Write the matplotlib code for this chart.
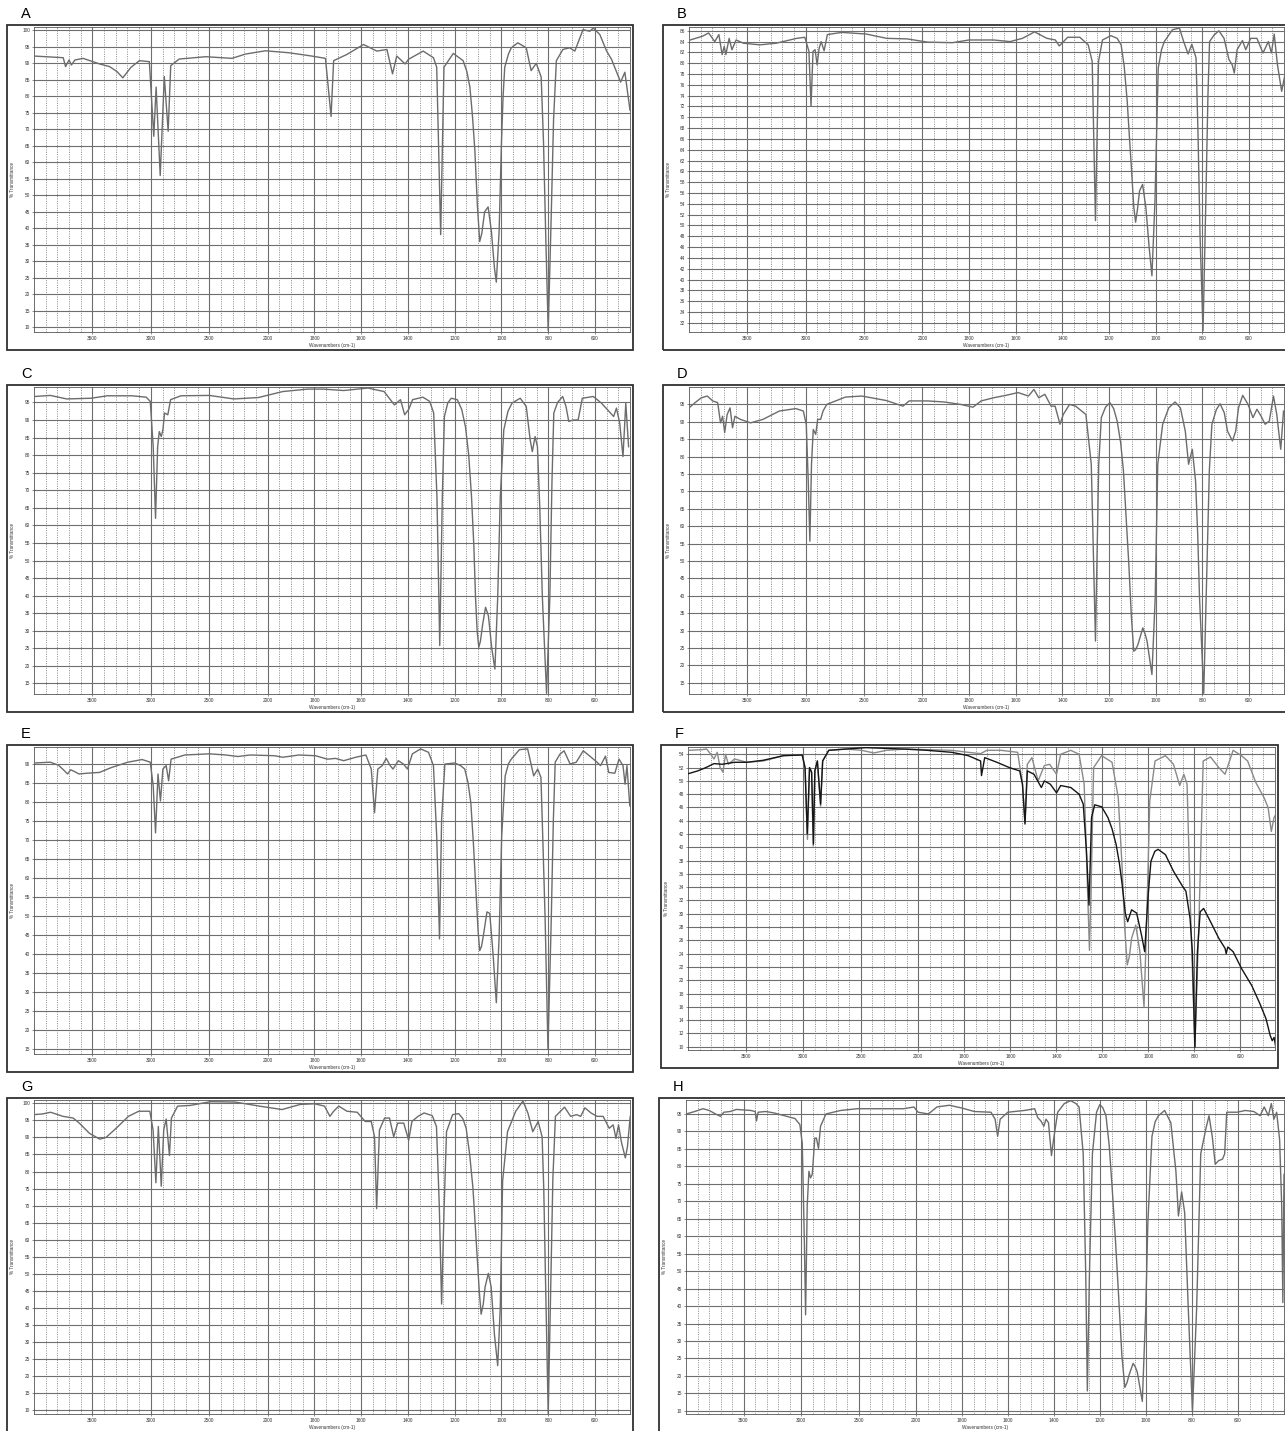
import numpy as np
import matplotlib.pyplot as plt
from matplotlib.patches import Rectangle

plt.rcParams['font.family'] = ['Liberation Sans', 'DejaVu Sans']

# spectra: (wavenumber cm-1, %T)
spec_a = [(4000, 92.2), (3750, 91.7), (3730, 89.0), (3700, 91.0), (3680, 89.5), (3650, 91.0),
          (3580, 91.5), (3438, 89.8), (3353, 89.0), (3290, 87.5), (3240, 85.6), (3170, 88.8),
          (3098, 90.8), (3013, 90.5),
          (2975, 67.9), (2955, 82.8), (2920, 56.0), (2885, 86.0), (2852, 69.4), (2830, 89.3),
          (2757, 91.3), (2530, 92.0), (2306, 91.5), (2190, 92.8), (2020, 93.8), (1910, 93.2),
          (1860, 92.7), (1812, 92.2), (1753, 91.5), (1729, 73.9), (1718, 90.8), (1661, 92.7),
          (1590, 95.7), (1533, 93.7), (1490, 94.2), (1466, 86.8), (1448, 92.2), (1412, 89.8),
          (1398, 91.2), (1335, 93.7), (1291, 91.7), (1277, 88.8), (1260, 38.1), (1246, 88.8),
          (1206, 93.0), (1164, 90.8), (1148, 87.5), (1135, 82.8), (1124, 74.0), (1114, 63.9),
          (1103, 47.0), (1093, 36.0), (1084, 38.5), (1072, 45.0),
          (1057, 46.5), (1043, 39.1), (1030, 28.0), (1022, 23.7), (1010, 39.1), (1000, 65.9),
          (993, 80.0), (986, 88.8), (970, 92.8),
          (958, 94.7), (930, 96.2), (894, 94.7), (873, 87.8), (851, 90.0), (830, 85.8),
          (820, 66.0), (811, 39.1), (800, 9.0), (787, 44.0), (777, 73.0), (765, 90.8),
          (737, 94.2), (708, 94.7),
          (686, 93.7), (651, 100.2), (622, 99.7), (607, 100.7), (579, 98.7), (550, 93.7),
          (529, 91.2), (507, 87.3), (490, 84.3), (472, 87.3), (450, 75.8)]

spec_b = [(3989, 84.3), (3884, 85.0), (3832, 85.6), (3779, 84.0), (3744, 85.3), (3716, 81.6),
          (3698, 83.1), (3684, 81.6), (3656, 84.6), (3632, 82.5), (3596, 84.3), (3533, 83.7),
          (3393, 83.4), (3253, 83.7), (3077, 84.6), (3007, 84.8), (2972, 82.2), (2954, 72.1),
          (2937, 82.2), (2919, 82.5), (2902, 79.7), (2884, 82.8), (2867, 84.0), (2842, 82.3),
          (2814, 85.3), (2691, 85.7), (2481, 85.4), (2305, 84.6), (2130, 84.5), (1977, 83.9),
          (1871, 83.8), (1800, 84.3), (1695, 84.3), (1624, 84.0), (1571, 84.6), (1519, 85.8),
          (1466, 84.6), (1430, 84.3), (1413, 83.2), (1377, 84.8), (1325, 84.8), (1289, 83.4),
          (1272, 80.3), (1258, 50.9), (1245, 80.3), (1228, 84.3), (1192, 85.1), (1165, 84.6),
          (1148, 83.4), (1135, 79.5),
          (1122, 73.0), (1112, 66.0), (1104, 60.7), (1094, 53.5), (1086, 50.6), (1078, 53.0),
          (1069, 56.4), (1056, 57.6), (1042, 53.3), (1028, 46.0),
          (1016, 40.7), (1003, 54.5), (989, 79.1), (975, 82.5), (963, 84.0), (928, 86.2), (898, 86.5),
          (880, 84.0), (861, 81.7), (845, 83.5), (827, 81.0), (818, 66.0), (810, 48.4), (797, 30.5),
          (785, 54.5), (776, 74.0), (769, 84.0), (750, 85.2), (729, 86.0), (707, 84.6), (686, 80.7), (672, 79.7),
          (663, 78.2), (651, 82.5), (628, 84.2), (614, 82.5), (593, 84.6), (566, 84.6),
          (540, 81.9), (517, 84.0), (504, 81.9), (492, 85.4), (478, 79.7), (460, 74.8),
          (446, 77.9)]

spec_c = [(3993, 96.7), (3860, 97.0), (3720, 96.0), (3511, 96.2), (3372, 96.9), (3162, 96.9),
          (3040, 96.5), (3005, 95.3), (2980, 82.4), (2960, 62.0), (2942, 82.4), (2928, 86.7),
          (2911, 85.3), (2897, 87.2), (2883, 92.0), (2855, 91.5), (2831, 95.8), (2743, 96.9),
          (2499, 97.0), (2290, 96.0), (2080, 96.4), (1936, 98.1), (1830, 98.8), (1762, 98.8),
          (1675, 98.4), (1571, 99.1), (1502, 98.1), (1458, 94.3), (1432, 95.8), (1414, 91.5),
          (1397, 93.0), (1380, 95.8), (1336, 96.5), (1307, 95.3), (1290, 92.0), (1276, 68.1),
          (1264, 25.8), (1253, 68.1), (1244, 91.0), (1230, 94.8), (1215, 96.2), (1189, 95.8),
          (1170, 93.0), (1154, 88.1), (1140, 80.0),
          (1128, 68.1), (1118, 54.0), (1111, 39.6), (1104, 30.0), (1097, 25.3), (1090, 27.0),
          (1080, 32.0), (1068, 36.7), (1056, 34.3), (1049, 30.0),
          (1042, 25.3), (1028, 19.1), (1016, 39.6), (1005, 68.1), (990, 87.2), (972, 92.5),
          (955, 94.8), (920, 96.2), (894, 93.9), (877, 84.3), (868, 81.0), (856, 85.3), (846, 82.4),
          (836, 65.0), (825, 39.6), (807, 12.2), (793, 39.6), (784, 72.0), (776, 92.0),
          (760, 95.0), (738, 96.7), (724, 93.9),
          (712, 89.6), (694, 90.0), (672, 90.0), (654, 96.2), (607, 96.7), (572, 94.8),
          (546, 92.9), (520, 91.0), (508, 93.4), (494, 89.1), (480, 79.6), (468, 94.8),
          (456, 82.4)]

spec_d = [(4000, 94.0), (3948, 95.5), (3895, 96.9), (3843, 97.4), (3797, 96.0), (3754, 95.5),
          (3730, 89.7), (3712, 91.6), (3694, 86.9), (3673, 92.1), (3648, 94.0), (3627, 88.3),
          (3606, 91.6), (3560, 90.7), (3472, 89.7), (3366, 90.7), (3225, 93.1), (3084, 93.8),
          (3020, 93.1), (2995, 89.3), (2978, 73.0), (2964, 55.7), (2950, 77.8), (2935, 87.8),
          (2914, 86.4), (2897, 90.7), (2872, 90.7), (2851, 93.1), (2819, 95.0), (2660, 97.1),
          (2519, 97.4), (2307, 96.1), (2166, 94.5), (2113, 96.0), (1977, 96.0), (1907, 95.7),
          (1836, 95.0), (1783, 94.2), (1748, 96.0), (1695, 96.9), (1642, 97.6), (1590, 98.4),
          (1545, 97.4), (1522, 99.3), (1501, 96.9), (1475, 97.9), (1448, 94.5), (1431, 94.5),
          (1410, 89.3), (1396, 92.1), (1369, 95.0), (1343, 94.5), (1299, 92.1), (1276, 77.8),
          (1258, 27.0), (1244, 77.8), (1233, 91.2), (1215, 94.2), (1196, 95.5), (1180, 93.8),
          (1165, 90.2), (1150, 84.0), (1138, 75.8),
          (1115, 49.0), (1104, 34.0), (1094, 24.1), (1086, 24.5), (1076, 26.0), (1055, 30.8),
          (1045, 29.0), (1037, 27.0), (1016, 17.4),
          (1002, 39.4), (991, 77.8), (970, 89.3), (944, 94.0), (917, 95.7), (894, 94.0),
          (873, 87.3), (859, 77.8), (843, 82.1), (829, 73.0), (820, 58.0), (812, 39.4), (794, 12.0),
          (780, 49.0), (770, 76.0), (759, 89.3), (740, 93.5), (724, 95.2), (706, 92.6), (692, 87.3), (671, 84.5),
          (657, 87.3), (645, 94.0), (627, 97.6), (604, 95.0), (583, 91.2), (566, 93.6),
          (548, 91.6), (531, 89.3), (513, 90.2), (495, 97.4), (481, 92.1), (464, 82.1),
          (452, 93.1)]

spec_e = [(3993, 90.2), (3860, 90.4), (3790, 89.6), (3738, 88.1), (3713, 87.3), (3686, 88.4),
          (3651, 87.9), (3616, 87.3), (3546, 87.5), (3441, 87.7), (3337, 89.0), (3197, 90.4),
          (3075, 91.1), (3005, 90.4), (2980, 84.2), (2960, 71.8), (2939, 87.3), (2918, 80.2),
          (2897, 88.6), (2869, 89.5), (2848, 85.5), (2827, 91.2), (2709, 92.3), (2499, 92.6),
          (2360, 92.3), (2255, 91.9), (2150, 92.3), (1970, 92.1), (1936, 91.7), (1866, 92.3),
          (1795, 92.1), (1745, 91.2), (1710, 91.4), (1675, 90.8), (1623, 91.7), (1580, 92.3),
          (1557, 88.6), (1543, 77.1), (1529, 88.6), (1510, 89.5), (1493, 91.4), (1476, 89.5),
          (1464, 88.6), (1441, 90.8), (1419, 89.9), (1402, 88.6), (1381, 92.6), (1346, 93.9),
          (1312, 93.0), (1291, 89.5), (1277, 70.9), (1265, 43.9), (1256, 75.3), (1242, 89.9),
          (1200, 90.2), (1175, 89.5), (1157, 88.6), (1143, 85.0), (1131, 79.7), (1120, 69.0),
          (1110, 57.6), (1100, 46.0), (1093, 40.8), (1085, 42.0), (1076, 45.3),
          (1062, 51.0), (1050, 50.6), (1036, 40.0), (1022, 27.1), (1010, 44.4), (999, 70.9),
          (984, 86.8), (970, 90.0), (958, 91.2), (923, 93.7), (888, 93.9), (862, 86.8), (845, 88.6),
          (831, 86.4), (822, 68.0), (813, 48.8), (801, 15.0), (787, 48.8), (778, 75.0), (770, 90.4),
          (750, 92.5), (732, 93.4),
          (706, 89.9), (680, 90.4), (650, 93.4), (624, 92.1), (593, 90.5), (576, 89.5),
          (555, 92.0), (541, 87.7), (515, 87.5), (497, 91.2), (480, 89.5), (471, 84.6),
          (463, 89.5), (451, 78.9)]

# F holds two scans: grey (f1) and black (f2)
spec_f1 = [(3995, 54.6), (3880, 54.7), (3838, 54.8), (3802, 54.0), (3774, 53.3), (3746, 54.3),
           (3721, 52.0), (3696, 51.3), (3674, 54.0), (3649, 52.5), (3596, 53.3), (3489, 52.8),
           (3347, 53.0), (3169, 53.8), (3008, 53.9), (2983, 52.0), (2962, 41.2), (2944, 52.0),
           (2926, 51.3), (2912, 40.2), (2898, 51.5), (2876, 53.0), (2848, 46.2), (2830, 53.0),
           (2777, 54.6), (2634, 54.8), (2492, 54.6), (2385, 54.2), (2278, 54.6), (2100, 54.8),
           (1961, 54.7), (1854, 54.6), (1783, 54.3), (1729, 54.1), (1702, 54.6), (1640, 54.6),
           (1568, 54.3), (1547, 49.5), (1536, 43.7), (1526, 52.5), (1506, 53.5), (1479, 50.0),
           (1452, 52.3), (1429, 52.5), (1399, 51.0), (1381, 54.0), (1337, 54.6), (1301, 54.0),
           (1279, 49.5), (1265, 34.4), (1256, 24.5), (1247, 36.9), (1238, 52.0), (1203, 53.8),
           (1158, 52.8), (1131, 47.5), (1114, 36.9), (1103, 28.0), (1092, 22.3), (1083, 23.5),
           (1073, 26.3), (1055, 28.3),
           (1037, 24.3), (1019, 16.0), (1007, 29.3), (994, 47.0), (971, 53.0), (926, 53.8),
           (891, 52.5), (864, 49.3), (846, 51.0), (832, 49.5), (816, 29.3), (798, 9.9),
           (780, 29.3), (762, 53.0), (730, 53.6), (694, 52.0), (667, 51.0), (632, 54.6),
           (596, 53.8), (569, 53.0), (534, 49.8), (498, 47.5), (480, 46.0), (466, 42.4),
           (454, 44.5), (445, 45.0)]

spec_f2 = [(3995, 51.1), (3916, 51.5), (3845, 52.0), (3774, 52.6), (3703, 52.5), (3596, 52.8),
           (3489, 52.8), (3347, 53.1), (3169, 53.8), (3008, 53.9), (2983, 52.0), (2964, 42.0),
           (2944, 52.0), (2926, 51.3), (2910, 40.5), (2898, 51.5), (2876, 53.0), (2848, 46.5),
           (2830, 53.0), (2777, 54.6), (2456, 55.0), (2135, 54.8), (1961, 54.6), (1854, 54.3),
           (1783, 53.8), (1729, 53.0), (1725, 50.8), (1711, 53.5), (1658, 52.8), (1604, 52.0),
           (1559, 51.5), (1547, 49.5), (1536, 43.5), (1526, 51.5), (1497, 51.0), (1465, 49.0),
           (1452, 50.0), (1426, 49.5), (1399, 48.2), (1381, 49.3), (1337, 49.0), (1301, 48.0),
           (1283, 46.5), (1269, 39.4), (1258, 31.3), (1247, 44.5), (1233, 46.4), (1203, 46.1),
           (1176, 44.5), (1158, 42.8), (1140, 40.4), (1126, 37.6), (1114, 34.4), (1100, 30.0),
           (1090, 28.8), (1073, 30.6), (1051, 30.1),
           (1030, 26.8), (1016, 24.3), (1003, 31.9), (989, 37.9), (972, 39.4), (958, 39.7), (926, 38.9),
           (891, 36.4), (851, 34.1), (837, 33.4), (819, 29.3), (809, 24.3), (798, 9.9),
           (787, 24.3), (775, 30.3), (760, 30.8), (730, 28.8), (694, 26.3), (667, 24.8),
           (662, 24.0), (655, 25.0), (632, 24.3), (596, 21.8), (551, 19.2), (516, 16.5),
           (489, 14.2), (471, 11.7), (462, 10.9), (454, 11.4), (445, 9.6)]

spec_g = [(4000, 96.7), (3928, 96.9), (3858, 97.4), (3752, 96.2), (3665, 95.7), (3612, 94.2),
          (3525, 91.2), (3437, 89.5), (3384, 90.0), (3297, 92.7), (3192, 96.2), (3104, 97.7),
          (3009, 97.7), (2981, 92.2), (2957, 76.7), (2936, 93.2), (2911, 75.7), (2890, 92.2),
          (2869, 95.4), (2841, 84.7), (2824, 95.7), (2771, 99.2), (2665, 99.4), (2490, 100.5),
          (2280, 100.4), (2070, 99.2), (1939, 98.2), (1861, 99.7), (1800, 99.9), (1757, 99.2),
          (1734, 96.2), (1718, 97.7), (1696, 99.2), (1661, 97.7), (1617, 97.4), (1583, 94.7),
          (1557, 94.7), (1543, 90.2), (1534, 69.1), (1522, 92.2), (1500, 95.7), (1479, 95.7),
          (1461, 90.2), (1444, 94.2), (1418, 94.2), (1397, 89.2), (1383, 94.7), (1357, 96.2),
          (1331, 97.2), (1296, 96.4), (1278, 93.2), (1266, 70.1), (1256, 41.1), (1245, 70.1),
          (1235, 91.7), (1209, 96.7), (1183, 97.0), (1165, 95.5), (1151, 92.7), (1136, 85.0),
          (1122, 75.2), (1104, 55.1), (1095, 45.0),
          (1087, 38.1), (1078, 41.0), (1070, 46.1), (1056, 50.1), (1044, 46.1), (1030, 32.1), (1016, 23.0),
          (1005, 40.1), (995, 77.2), (974, 91.7), (939, 97.7), (908, 100.7), (887, 97.2),
          (866, 91.7), (843, 94.7), (826, 90.2), (819, 75.0), (812, 50.1), (800, 9.0), (788, 50.1),
          (780, 78.0), (769, 96.2), (730, 98.9), (704, 96.2), (678, 96.7), (661, 96.2), (643, 98.7),
          (617, 97.2), (591, 96.2), (565, 96.2), (539, 92.7), (522, 93.7), (510, 89.7),
          (499, 93.7), (487, 88.7), (470, 84.0), (461, 87.2), (449, 96.2)]

spec_h = [(3998, 95.0), (3925, 95.7), (3852, 96.5), (3798, 96.0), (3743, 95.0), (3700, 94.3),
          (3671, 95.5), (3616, 95.7), (3562, 96.3), (3435, 96.0), (3398, 95.7), (3387, 93.0),
          (3373, 95.5), (3307, 95.7), (3235, 95.3), (3144, 94.5), (3053, 93.7), (3010, 92.0),
          (2989, 86.6), (2971, 58.8), (2960, 37.5), (2946, 68.7), (2931, 78.6), (2917, 76.7),
          (2902, 77.7), (2880, 88.1), (2866, 88.1), (2848, 85.1), (2830, 91.5), (2783, 95.0),
          (2656, 96.0), (2511, 96.5), (2363, 96.5), (2109, 96.5), (2018, 97.0), (1991, 95.5),
          (1946, 95.0), (1909, 97.0), (1855, 97.5), (1801, 96.7), (1746, 95.7), (1674, 95.5),
          (1656, 93.5), (1645, 88.6), (1634, 93.5), (1601, 95.5), (1529, 96.0), (1484, 96.5),
          (1471, 94.0), (1457, 93.0), (1444, 91.5), (1435, 93.5), (1424, 92.5), (1411, 83.1),
          (1402, 87.6), (1384, 95.5), (1355, 98.0), (1327, 98.8), (1305, 98.0), (1291, 97.0),
          (1273, 83.6), (1262, 48.9),
          (1255, 15.7), (1246, 48.9), (1233, 83.6), (1215, 95.5), (1201, 97.7), (1188, 96.8),
          (1174, 94.5), (1160, 86.0), (1147, 73.7), (1132, 58.0),
          (1120, 44.0), (1105, 26.0), (1092, 16.7), (1083, 18.0), (1074, 20.2), (1056, 23.6),
          (1046, 22.5), (1038, 21.1), (1016, 12.7),
          (1001, 39.0), (992, 63.8), (974, 88.6), (960, 92.8), (946, 94.5), (919, 96.0), (892, 92.5),
          (870, 78.6), (859, 65.8), (845, 72.7), (832, 66.8), (816, 39.0), (798, 9.8),
          (780, 39.0), (762, 83.6), (739, 91.0), (726, 94.5), (712, 88.6), (699, 80.6),
          (685, 81.6), (667, 82.1), (658, 83.6), (649, 95.5), (604, 95.5), (568, 96.0),
          (531, 95.7), (504, 94.5), (486, 97.0), (468, 94.5), (455, 98.0), (444, 93.5),
          (432, 95.5), (419, 87.6), (410, 68.7), (405, 41.0), (400, 77.7)]

x_major = [3500, 3000, 2500, 2000, 1800, 1600, 1400, 1200, 1000, 800, 600]
x_minor = [w for w in list(range(3900, 2000, -100)) + list(range(1950, 400, -50))
           if w not in x_major]

W, H = 1285, 1431
fig = plt.figure(figsize=(W / 100, H / 100), dpi=100)


# spectrometer style x scale: below 2000 cm-1 is stretched twice
def fwd(x):
    x = np.asarray(x, dtype=float)
    return np.where(x > 2000, 2000 + (x - 2000) / 2.0, x)


def inv(u):
    u = np.asarray(u, dtype=float)
    return np.where(u > 2000, 2000 + (u - 2000) * 2.0, u)


def panel(letter, box, axr, spectra, ylim, yticks, xlim=(4000, 450)):
    bl, bt, br, bb = box
    fig.add_artist(Rectangle((bl / W, 1 - bb / H), (br - bl) / W, (bb - bt) / H,
                             transform=fig.transFigure, fill=False, lw=1.3, ec='#303030'))
    fig.text((bl + 14) / W, 1 - (bt - 11) / H, letter, fontsize=10.5, va='center', ha='left')
    fig.text((bl + 5) / W, 1 - ((axr[1] + axr[3]) / 2) / H, '% Transmittance',
             rotation=90, fontsize=3.3, va='center', ha='center', color='#333')
    l, t, r, b = axr
    ax = fig.add_axes([l / W, 1 - b / H, (r - l) / W, (b - t) / H])
    ax.set_xscale('function', functions=(fwd, inv))
    for data, col in spectra:
        wn, tr = np.array(data).T
        ax.plot(wn, tr, color=col, lw=1.0, zorder=3, solid_joinstyle='round')
    ax.set_xlim(*xlim)
    ax.set_ylim(*ylim)
    ax.set_xticks(x_major)
    ax.set_xticklabels([str(v) for v in x_major])
    ax.set_xticks(x_minor, minor=True)
    ax.set_xticklabels([], minor=True)
    ax.set_yticks(yticks)
    ax.grid(which='major', axis='both', color='#6e6e6e', lw=0.8)
    ax.grid(which='minor', axis='x', color='#7a7a7a', lw=0.6, ls=(0, (1.2, 1.6)))
    ax.tick_params(axis='both', which='major', labelsize=3.4, length=1.5, width=0.4,
                   pad=1.5, colors='#333')
    ax.tick_params(axis='x', which='minor', length=1.0, width=0.3)
    for s in ax.spines.values():
        s.set_color('#555')
        s.set_linewidth(0.6)
    ax.set_xlabel('Wavenumbers (cm-1)', fontsize=3.4, labelpad=1.5, color='#333')


grey = '#6c6c6c'
panel('A', (7, 25, 633, 350), (34, 27, 630, 332), [(spec_a, grey)],
      (8.6, 101), np.arange(10, 101, 5))
panel('B', (663, 25, 1292, 350), (689, 27, 1284, 332), [(spec_b, grey)],
      (30.3, 86.7), np.arange(32, 87, 2))
panel('C', (7, 385, 633, 712), (34, 387, 630, 694), [(spec_c, grey)],
      (12, 99.4), np.arange(15, 96, 5))
panel('D', (663, 385, 1292, 712), (689, 387, 1284, 694), [(spec_d, grey)],
      (11.8, 100), np.arange(15, 96, 5))
panel('E', (7, 745, 633, 1072), (34, 747, 630, 1054), [(spec_e, grey)],
      (13.6, 94.4), np.arange(15, 91, 5))
panel('F', (661, 745, 1278, 1068), (688, 747, 1275, 1050), [(spec_f1, '#8a8a8a'), (spec_f2, '#151515')],
      (9.5, 55.1), np.arange(10, 55, 2))
panel('G', (7, 1098, 633, 1440), (34, 1100, 630, 1414), [(spec_g, grey)],
      (8.8, 101), np.arange(10, 101, 5))
panel('H', (659, 1098, 1292, 1440), (686, 1100, 1284, 1414), [(spec_h, grey)],
      (9.1, 99), np.arange(10, 96, 5), xlim=(4000, 400))

fig.savefig('out.png', dpi=100)
